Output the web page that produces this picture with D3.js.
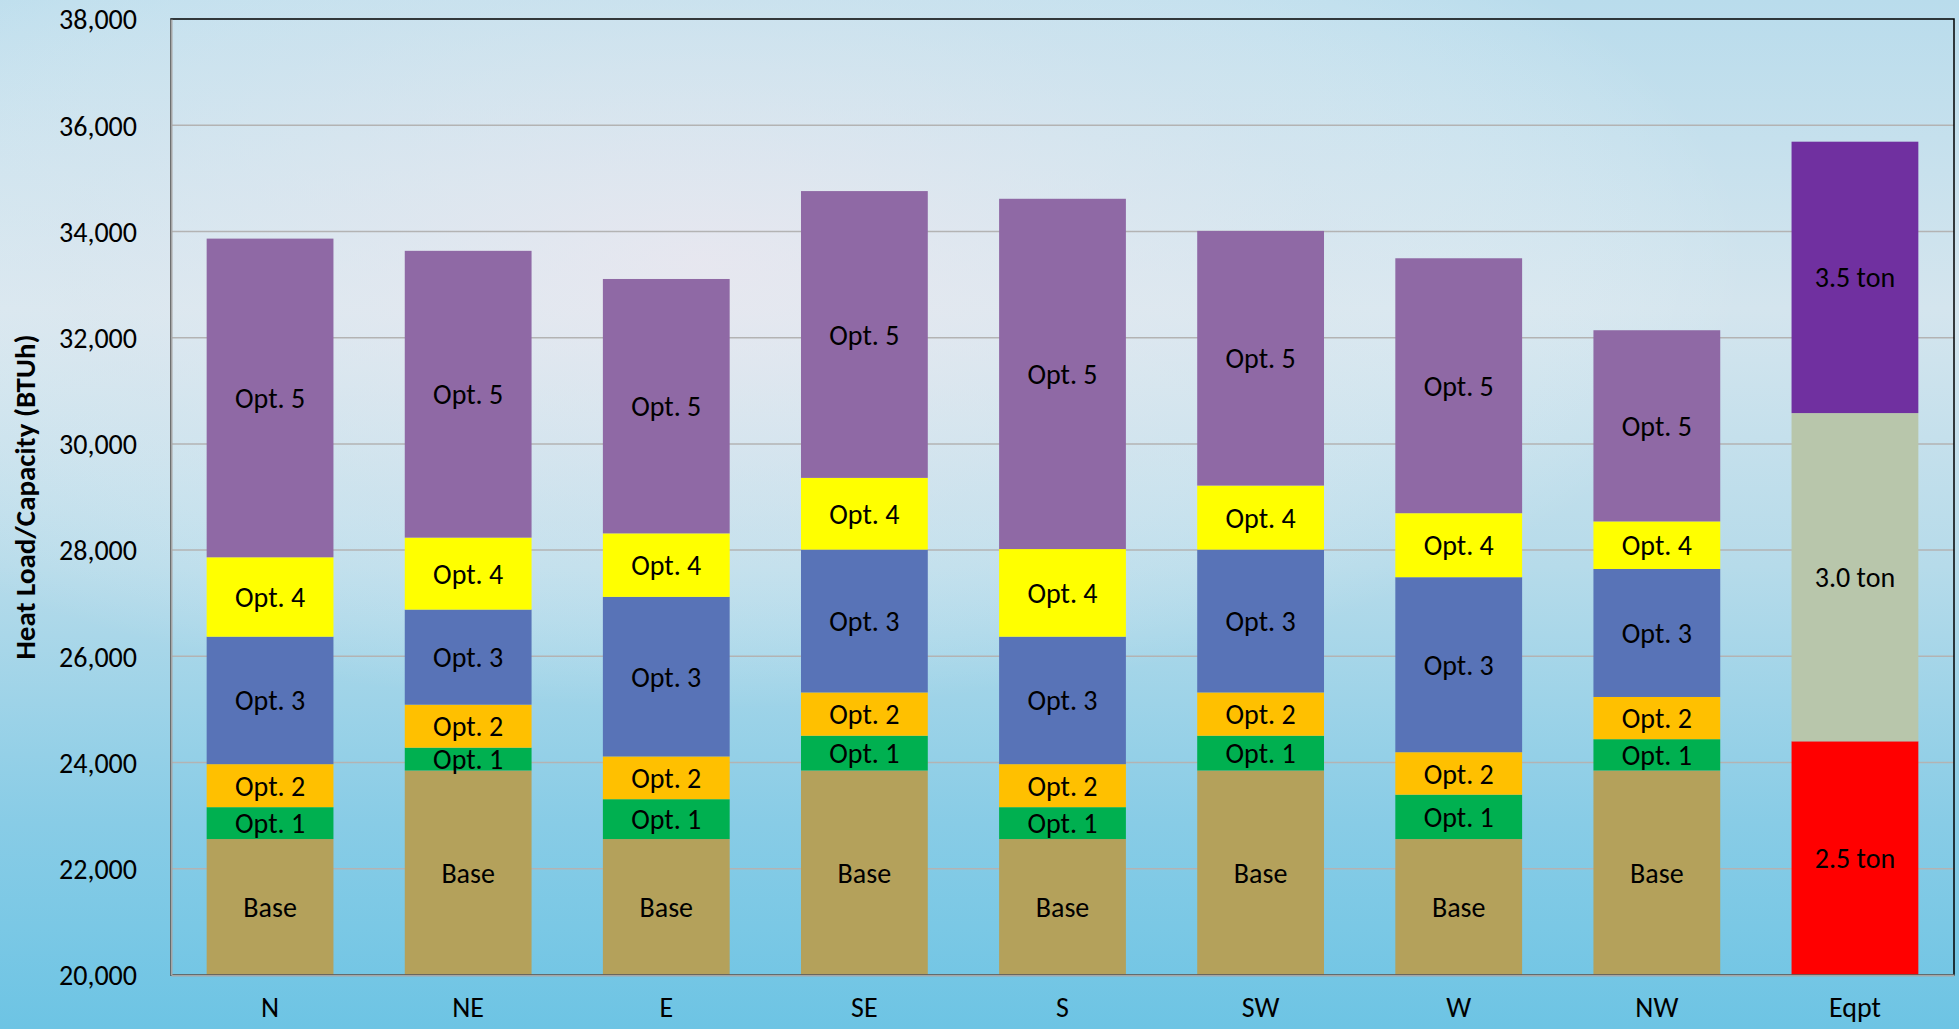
<!DOCTYPE html>
<html>
<head>
<meta charset="utf-8">
<script src="https://cdn.jsdelivr.net/npm/d3@7"></script>
<style>
  body { margin: 0; overflow: hidden; }
  text { font-family: Carlito, Lato, sans-serif; fill: #000; }
</style>
</head>
<body>
<div id="box-div"></div>
<script>
// values (BTUh)
const categories = ['N', 'NE', 'E', 'SE', 'S', 'SW', 'W', 'NW', 'Eqpt']
const optKeys = ['Base', 'Opt. 1', 'Opt. 2', 'Opt. 3', 'Opt. 4', 'Opt. 5']
const baseLoad = [22560, 23850, 22560, 23850, 22560, 23850, 22560, 23850]
const opt1 = [600, 430, 750, 655, 600, 655, 835, 590]
const opt2 = [810, 810, 805, 815, 810, 815, 800, 795]
const opt3 = [2400, 1790, 3005, 2690, 2400, 2690, 3295, 2410]
const opt4 = [1495, 1355, 1195, 1350, 1650, 1205, 1205, 895]
const opt5 = [6000, 5400, 4790, 5400, 6595, 4795, 4800, 3600]
const eqptKeys = ['2.5 ton', '3.0 ton', '3.5 ton']
const eqptValues = [24400, 6180, 5110]
const yTicks = [20000, 22000, 24000, 26000, 28000, 30000, 32000, 34000, 36000, 38000]

const colors = {
    'Base': '#b4a15b',
    'Opt. 1': '#00b050',
    'Opt. 2': '#ffc000',
    'Opt. 3': '#5873b7',
    'Opt. 4': '#ffff00',
    'Opt. 5': '#8f69a5',
    '2.5 ton': '#ff0000',
    '3.0 ton': '#b8c6ab',
    '3.5 ton': '#7030a0'
}

const dms = {
    width: 1959,
    height: 1029,
    margin: { top: 19, right: 5, bottom: 54, left: 171 }
}
dms.contentWidth = dms.width - dms.margin.left - dms.margin.right
dms.contentHeight = dms.height - dms.margin.top - dms.margin.bottom

const box = d3.select('#box-div').append('svg')
    .attr('width', dms.width)
    .attr('height', dms.height)

// background picture fill
const defs = box.append('defs')
const lin = defs.append('linearGradient')
    .attr('id', 'bg-lin')
    .attr('x1', 0).attr('y1', 0).attr('x2', 0).attr('y2', 1)
lin.selectAll('stop')
    .data([[0, '#b9dcec'], [0.3, '#d4e5ee'], [0.55, '#b6dbea'], [0.8, '#88cce6'], [1, '#6dc4e4']])
    .join('stop')
    .attr('offset', d => d[0])
    .attr('stop-color', d => d[1])
const rad = defs.append('radialGradient')
    .attr('id', 'bg-rad')
    .attr('gradientUnits', 'userSpaceOnUse')
    .attr('cx', 700).attr('cy', 260).attr('r', 750)
    .attr('gradientTransform', 'translate(700,260) scale(1.4,0.6) translate(-700,-260)')
rad.selectAll('stop')
    .data([[0, '#eee8f0', 0.75], [0.6, '#e8ecf2', 0.35], [1, '#ffffff', 0]])
    .join('stop')
    .attr('offset', d => d[0])
    .attr('stop-color', d => d[1])
    .attr('stop-opacity', d => d[2])

box.append('rect').attr('width', dms.width).attr('height', dms.height).attr('fill', 'url(#bg-lin)')
box.append('rect').attr('width', dms.width).attr('height', dms.height).attr('fill', 'url(#bg-rad)')

const content = box.append('g')
    .attr('transform', `translate(${dms.margin.left},${dms.margin.top})`)

const xScale = d3.scaleBand()
    .domain(categories)
    .range([0, dms.contentWidth])
    .paddingInner(0.36)
    .paddingOuter(0.18)

const yScale = d3.scaleLinear()
    .domain([yTicks[0], yTicks[yTicks.length - 1]])
    .range([dms.contentHeight, 0])

// gridlines
content.append('g')
    .selectAll('line')
    .data(yTicks.slice(1, -1))
    .join('line')
    .attr('x1', 0)
    .attr('x2', dms.contentWidth)
    .attr('y1', d => yScale(d))
    .attr('y2', d => yScale(d))
    .style('stroke', '#b3b3b3')
    .style('stroke-width', 1.5)

// stacked data
const rows = categories.map((c, i) => {
    const row = { cat: c }
    const seriesList = [baseLoad, opt1, opt2, opt3, opt4, opt5]
    optKeys.forEach((k, j) => { row[k] = i < 8 ? seriesList[j][i] : 0 })
    eqptKeys.forEach((k, j) => { row[k] = c === 'Eqpt' ? eqptValues[j] : 0 })
    return row
})

const stack = d3.stack().keys(optKeys.concat(eqptKeys))(rows)

const segs = []
stack.forEach(layer => {
    layer.forEach(d => {
        if (d[1] - d[0] > 0) segs.push({ key: layer.key, cat: d.data.cat, y0: d[0], y1: d[1] })
    })
})

const lo = yScale.domain()[0]
const barArea = content.append('g')

barArea.selectAll('rect')
    .data(segs)
    .join('rect')
    .attr('x', d => xScale(d.cat))
    .attr('width', xScale.bandwidth())
    .attr('y', d => yScale(d.y1))
    .attr('height', d => yScale(Math.max(d.y0, lo)) - yScale(d.y1))
    .style('fill', d => colors[d.key])

barArea.selectAll('text')
    .data(segs)
    .join('text')
    .attr('x', d => xScale(d.cat) + xScale.bandwidth() / 2)
    .attr('y', d => (yScale(Math.max(d.y0, lo)) + yScale(d.y1)) / 2)
    .attr('dy', '0.36em')
    .attr('text-anchor', 'middle')
    .style('font-size', '28px')
    .text(d => d.key)

// plot border
content.append('rect')
    .attr('width', dms.contentWidth)
    .attr('height', dms.contentHeight)
    .style('fill', 'none')
    .style('stroke', '#000')
    .style('stroke-width', 1.5)

// axes
const yAxis = content.append('g')
    .call(d3.axisLeft(yScale).tickValues(yTicks).tickSize(0).tickPadding(34).tickFormat(d3.format(',')))
yAxis.select('.domain').style('stroke', '#a6a6a6').style('stroke-width', 2)
yAxis.selectAll('text').style('font-size', '28px').attr('dy', '0.35em')

const xAxis = content.append('g')
    .attr('transform', `translate(0,${dms.contentHeight})`)
    .call(d3.axisBottom(xScale).tickSize(0).tickPadding(22))
xAxis.select('.domain').style('stroke', '#a6a6a6').style('stroke-width', 2)
xAxis.selectAll('text').style('font-size', '28px')

box.append('text')
    .attr('transform', `translate(35,${dms.margin.top + dms.contentHeight / 2}) rotate(-90)`)
    .attr('text-anchor', 'middle')
    .style('font-size', '29px')
    .style('font-weight', 'bold')
    .text('Heat Load/Capacity (BTUh)')
</script>
</body>
</html>
